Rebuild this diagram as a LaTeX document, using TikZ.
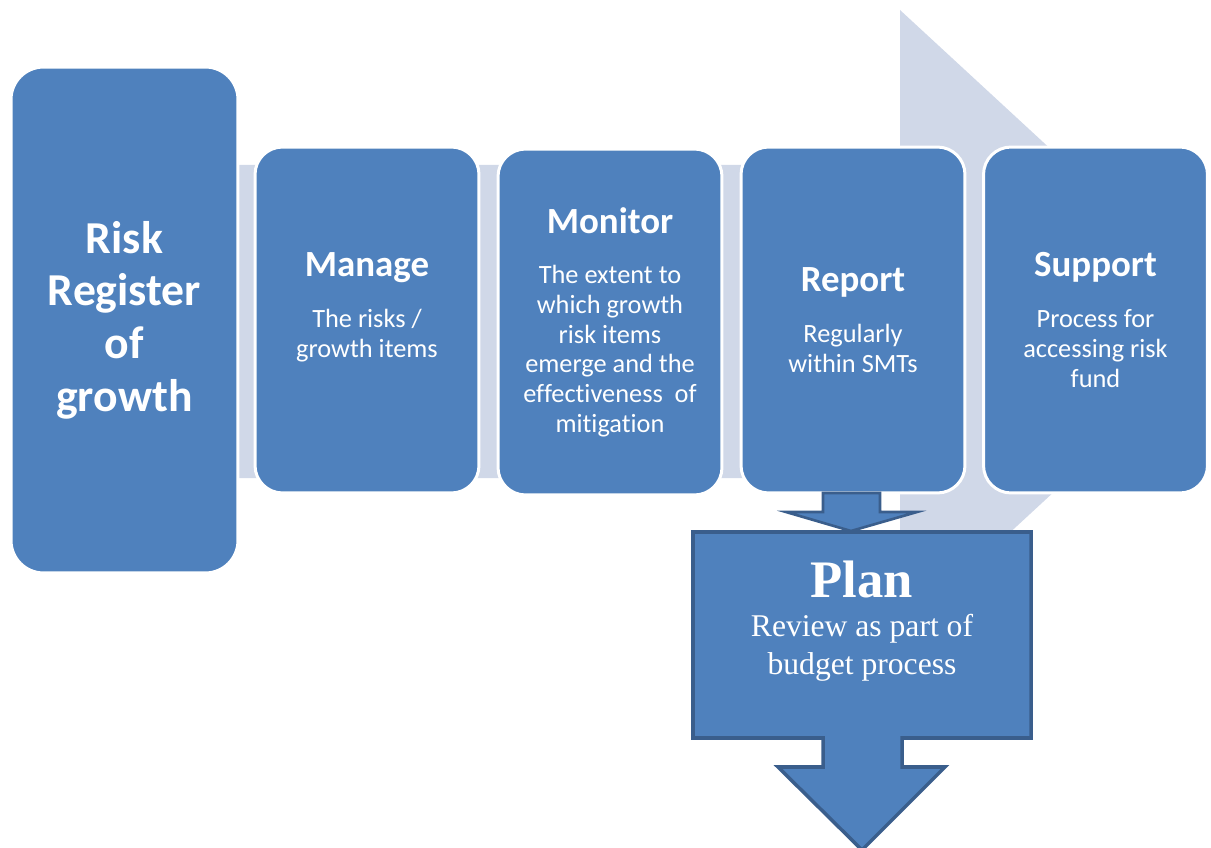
\documentclass[tikz,border=0pt]{standalone}
\usepackage{fontspec}
\setmainfont[Ligatures=NoCommon]{Carlito}
\newfontfamily\planfont{Liberation Serif}
\usetikzlibrary{positioning}
\definecolor{stepblue}{RGB}{79,129,189}
\definecolor{bandgray}{RGB}{208,216,232}
\definecolor{edgeblue}{RGB}{58,94,140}

\newcommand{\stagehead}[1]{{\fontsize{21}{16.7}\selectfont\bfseries #1}\\[12pt]}

\begin{document}
\begin{tikzpicture}[
    x=0.02cm, y=-0.02cm,
    stage/.style={draw=white, line width=1.7pt, fill=stepblue, rounded corners=0.55cm,
      text=white, align=center, inner sep=0pt, minimum width=4.48cm, minimum height=6.92cm,
      font=\fontsize{15}{16.9}\selectfont},
    register/.style={stage, rounded corners=0.65cm, minimum width=4.54cm, minimum height=10.12cm,
      font=\fontsize{26}{30}\selectfont\bfseries},
    callout/.style={draw=edgeblue, line width=2pt, fill=stepblue, line join=miter}
]
\useasboundingbox (0,0) rectangle (1211,848);

% light bent band behind the steps
\begin{scope}
\clip (0,0) rectangle (1205,848);
\fill[bandgray] (100,165) -- (900,165) -- (900,10) -- (1238,322) -- (900,634)
  -- (900,478) -- (100,478) -- cycle;
\end{scope}

\node[register] (register) at (124.5,320) {Risk\\ Register\\ of\\ growth};
\node[stage] (manage) at (367,320) {\stagehead{Manage}The risks /\\ growth items\\ \mbox{}};
\node[stage] (monitor) at (610,322) {\stagehead{Monitor}The extent to\\ which growth\\ risk items\\
  emerge and the\\ effectiveness\ \ of\\ mitigation};
\node[stage] (report) at (853,320) {\stagehead{Report}Regularly\\ within SMTs};
\node[stage] (support) at (1095.5,320) {\stagehead{Support}Process for\\ accessing risk\\ fund};

% small arrow down into the plan
\draw[callout, line width=1.5pt] (823,493) -- (880,493) -- (880,512) -- (917,512) -- (851,531)
  -- (786,512) -- (823,512) -- cycle;

% plan callout
\draw[callout] (693,532) -- (1031,532) -- (1031,738) -- (902,738) -- (902,767) -- (945,767)
  -- (862,850) -- (778,767) -- (823,767) -- (823,738) -- (693,738) -- cycle;
\node[text=white, align=center, font=\planfont\fontsize{18}{21.5}\selectfont] (plan) at (862,621)
  {{\fontsize{30}{21.5}\selectfont\bfseries Plan}\\[1pt] Review as part of\\ budget process};
\end{tikzpicture}
\end{document}
